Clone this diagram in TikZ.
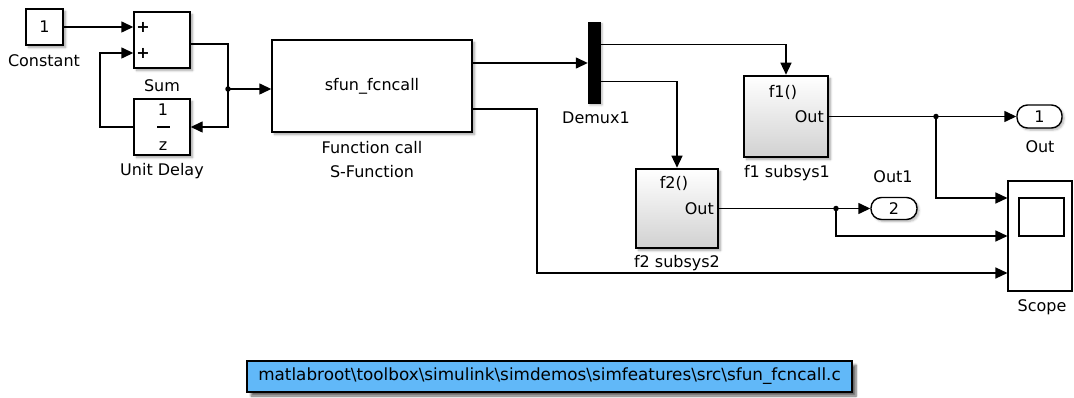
\documentclass[tikz,border=0pt]{standalone}
\usepackage{fontspec}
\setmainfont{DejaVu Sans}
\usetikzlibrary{arrows.meta,shadows.blur,positioning}
\definecolor{notebg}{RGB}{97,184,248}
\tikzset{
  every node/.style={font=\fontsize{16}{19}\selectfont, inner sep=0pt},
  blk/.style={draw, line width=1.4pt, fill=white, rectangle,
    blur shadow={shadow xshift=2.5pt, shadow yshift=-2.5pt, shadow blur steps=6, shadow opacity=35}},
  subsys/.style={draw, line width=2.6pt, rectangle, top color=white, bottom color=black!18,
    blur shadow={shadow xshift=2.5pt, shadow yshift=-2.5pt, shadow blur steps=6, shadow opacity=35}},
  pill/.style={draw, line width=1.4pt, fill=white, rounded corners=10.5pt,
    blur shadow={shadow xshift=2pt, shadow yshift=-2pt, shadow blur steps=5, shadow opacity=30}},
  lbl/.style={text=black},
  wire/.style={line width=1.4pt},
  arr/.style={line width=1.4pt, -{Triangle[length=12pt,width=11pt]}},
  dot/.style={circle, fill=black, minimum size=5.5pt}
}
\begin{document}
\begin{tikzpicture}[x=1pt,y=-1pt]
\useasboundingbox (0,0) rectangle (1074,398);
% blocks
\node[blk, minimum width=37, minimum height=36] (const) at (44.5,27) {1};
\node[lbl] (constl) at (44,61) {Constant};
\node[blk, minimum width=56, minimum height=56] (sum) at (162,40) {};
\node (sump1) at (143,27) {\textbf{+}};
\node (sump2) at (143,53) {\textbf{+}};
\node[lbl] (suml) at (162,86) {Sum};
\node[blk, minimum width=56, minimum height=56] (delay) at (162,127) {};
\node (dnum) at (163,110) {1};
\draw[line width=1.2pt] (157,127) -- (170,127);
\node (dden) at (163,146) {z};
\node[lbl] (delayl) at (162,171) {Unit Delay};
\node[blk, minimum width=200, minimum height=92] (sfun) at (372,86) {sfun\_fcncall};
\node[lbl] (sfunl1) at (372,148) {Function call};
\node[lbl] (sfunl2) at (372,172) {S-Function};
\node[draw, fill=black, minimum width=12, minimum height=81,
  blur shadow={shadow xshift=2pt, shadow yshift=-2pt, shadow opacity=30}] (demux) at (594,62.5) {};
\node[lbl] (demuxl) at (596,118) {Demux1};
\node[subsys, minimum width=84, minimum height=81] (f1) at (786,116.5) {};
\node (f1t) at (783,92) {f1()};
\node[anchor=east] (f1o) at (824,116.5) {Out};
\node[lbl] (f1l) at (787,173) {f1 subsys1};
\node[subsys, minimum width=82, minimum height=79] (f2) at (677,208.5) {};
\node (f2t) at (674,183) {f2()};
\node[anchor=east] (f2o) at (714,208.5) {Out};
\node[lbl] (f2l) at (677,263) {f2 subsys2};
\node[pill, minimum width=45, minimum height=23] (out1) at (1039.5,116.5) {1};
\node[lbl] (out1l) at (1040,147) {Out};
\node[pill, minimum width=46, minimum height=22] (out2) at (894,208.5) {2};
\node[lbl] (out2l) at (893,177) {Out1};
\node[draw, line width=1.1pt, fill=white, minimum width=64, minimum height=110] (scope) at (1040,236) {};
\node[draw, line width=1.1pt, minimum width=45, minimum height=38] (screen) at (1041.5,217) {};
\node[lbl] (scopel) at (1042,307) {Scope};
\node[draw, line width=1.5pt, fill=notebg, minimum width=605, minimum height=31,
  font=\fontsize{16.8}{20}\selectfont,
  blur shadow={shadow xshift=4pt, shadow yshift=-4pt, shadow blur steps=6, shadow opacity=60}] (note) at (549.5,376.5)
  {matlabroot\textbackslash toolbox\textbackslash simulink\textbackslash simdemos\textbackslash simfeatures\textbackslash src\textbackslash sfun\_fcncall.c};
% ports and bends
\coordinate (j1) at (228,89);
\coordinate (fb) at (100,127);
\coordinate (k1) at (537,0);
\coordinate (j2) at (936,116.5);
\coordinate (j3) at (836,208.5);
\coordinate (sc1) at ([yshift=38pt]scope.west);
\coordinate (sc2) at (scope.west);
\coordinate (sc3) at ([yshift=-37pt]scope.west);
% connectors
\draw[arr] (const.east) -- ([yshift=13pt]sum.west);
\draw[arr] ([yshift=-4pt]sum.east) -| (j1) |- (delay.east);
\draw[arr] (j1) -- (j1 -| sfun.west);
\draw[arr] (delay.west) -- (fb) |- ([yshift=-13pt]sum.west);
\draw[arr] ([yshift=23pt]sfun.east) coordinate (s1) -- (s1 -| demux.west);
\draw[arr] ([yshift=-23pt]sfun.east) -| (k1 |- sc3) -- (sc3);
\draw[arr] ([yshift=18pt]demux.east) -| (f1.north);
\draw[arr] ([yshift=-19pt]demux.east) -| (f2.north);
\draw[wire] (f1.east) -- (j2);
\draw[arr] (j2) -- (out1.west);
\draw[arr] (j2) |- (sc1);
\draw[wire] (f2.east) -- (j3);
\draw[arr] (j3) -- (out2.west);
\draw[arr] (j3) |- (sc2);
\node[dot] (d1) at (j1) {};
\node[dot] (d2) at (j2) {};
\node[dot] (d3) at (j3) {};
\end{tikzpicture}
\end{document}
